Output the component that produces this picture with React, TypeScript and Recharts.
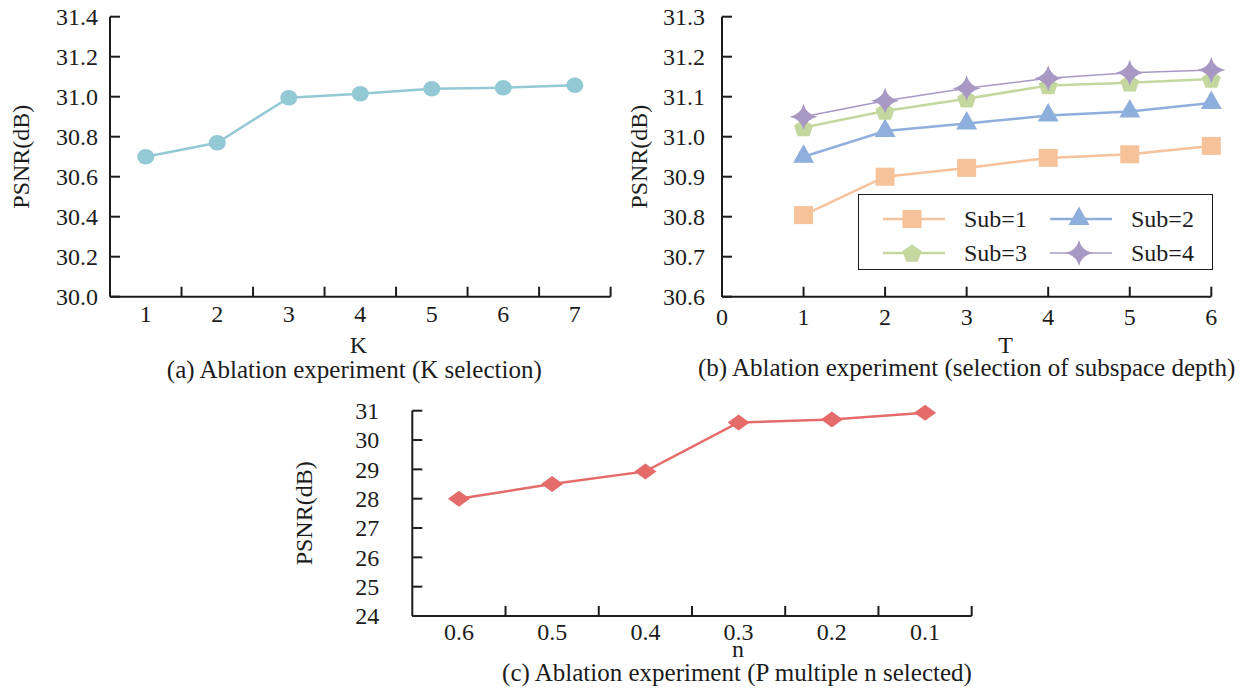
import React from 'react'
import { LineChart, Line, XAxis, YAxis, Legend, Label } from 'recharts'

const FONT = '"Liberation Serif", "Times New Roman", serif'
const INK = '#1c1c1c'

// (a) K selection
const kValues = [1, 2, 3, 4, 5, 6, 7]
const kPsnr = [30.7, 30.77, 30.995, 31.015, 31.04, 31.045, 31.057]
const kYTicks = [30.0, 30.2, 30.4, 30.6, 30.8, 31.0, 31.2, 31.4]

// (b) subspace depth
const tValues = [1, 2, 3, 4, 5, 6]
const tXTicks = [0, 1, 2, 3, 4, 5, 6]
const sub1 = [30.804, 30.9, 30.922, 30.947, 30.956, 30.977]
const sub2 = [30.95, 31.014, 31.033, 31.053, 31.063, 31.084]
const sub3 = [31.023, 31.064, 31.095, 31.128, 31.135, 31.144]
const sub4 = [31.05, 31.09, 31.121, 31.146, 31.16, 31.167]
const tYTicks = [30.6, 30.7, 30.8, 30.9, 31.0, 31.1, 31.2, 31.3]

// (c) P multiple n
const nLabels = ['0.6', '0.5', '0.4', '0.3', '0.2', '0.1']
const nPsnr = [28.0, 28.5, 28.93, 30.6, 30.7, 30.93]
const nYTicks = [24, 25, 26, 27, 28, 29, 30, 31]

const kData = kValues.map((k, i) => ({ k, psnr: kPsnr[i] }))
const tData = tValues.map((t, i) => ({ t, s1: sub1[i], s2: sub2[i], s3: sub3[i], s4: sub4[i] }))
const nData = nLabels.map((n, i) => ({ pos: i + 1, n, psnr: nPsnr[i] }))

const series = [
  { key: 's1', name: 'Sub=1', color: '#F5C29A', shape: 'square', width: 2.5 },
  { key: 's2', name: 'Sub=2', color: '#8EAFDC', shape: 'triangle', width: 2.5 },
  { key: 's3', name: 'Sub=3', color: '#C4D79F', shape: 'pentagon', width: 2.5 },
  { key: 's4', name: 'Sub=4', color: '#A898C4', shape: 'star', width: 1.5 },
]

function Marker({ kind, cx, cy, color }: any) {
  switch (kind) {
    case 'circle':
      return <ellipse cx={cx} cy={cy} rx={8.5} ry={7.8} fill={color} />
    case 'square':
      return <rect x={cx - 9.5} y={cy - 9} width={19} height={18} fill={color} />
    case 'triangle':
      return <path d={`M${cx},${cy - 12.5} L${cx + 10.5},${cy + 6} L${cx - 10.5},${cy + 6} Z`} fill={color} />
    case 'pentagon': {
      const pts = [0, 1, 2, 3, 4].map((j) => {
        const a = -Math.PI / 2 + (j * 2 * Math.PI) / 5
        return `${cx + 10 * Math.cos(a)},${cy + 9.5 * Math.sin(a) + 1}`
      })
      return <polygon points={pts.join(' ')} fill={color} />
    }
    case 'star': {
      const rx = 14
      const ry = 13
      const k = 2.5
      return (
        <path
          d={`M${cx},${cy - ry} Q${cx + k},${cy - k} ${cx + rx},${cy} Q${cx + k},${cy + k} ${cx},${cy + ry} Q${cx - k},${cy + k} ${cx - rx},${cy} Q${cx - k},${cy - k} ${cx},${cy - ry} Z`}
          fill={color}
        />
      )
    }
    case 'diamond':
      return <path d={`M${cx},${cy - 8} L${cx + 11},${cy} L${cx},${cy + 8} L${cx - 11},${cy} Z`} fill={color} />
    default:
      return null
  }
}

function dotOf(kind: string, color: string) {
  return (props: any) => {
    const { cx, cy, index } = props
    if (cx == null || cy == null) return <g key={index} />
    return <Marker key={index} kind={kind} cx={cx} cy={cy} color={color} />
  }
}

function YTick({ x, y, payload, gap, digits }: any) {
  const ax = x + gap
  return (
    <g>
      <line x1={ax} x2={ax + 10} y1={y} y2={y} stroke={INK} strokeWidth={2} />
      <text x={x} y={y} dy="0.34em" textAnchor="end" fontSize={24} fontFamily={FONT} fill={INK}>
        {digits == null ? payload.value : Number(payload.value).toFixed(digits)}
      </text>
    </g>
  )
}

function XTick({ x, y, payload, gap, shift, text }: any) {
  const ay = y - gap
  const lx = x + shift
  return (
    <g>
      <line x1={lx} x2={lx} y1={ay} y2={ay - 10} stroke={INK} strokeWidth={2} />
      <text x={x} y={y} dy="0.35em" textAnchor="middle" fontSize={24} fontFamily={FONT} fill={INK}>
        {text ? text(payload.value) : payload.value}
      </text>
    </g>
  )
}

function SubLegend({ payload }: any) {
  return (
    <div
      style={{
        width: 355,
        height: 76,
        border: `1.5px solid ${INK}`,
        boxSizing: 'border-box',
        position: 'relative',
        background: '#fff',
      }}
    >
      {(payload || []).map((entry: any, i: number) => {
        const s = series.find((d) => d.key === entry.dataKey) || series[i]
        const col = i % 2
        const row = Math.floor(i / 2)
        return (
          <div
            key={entry.value}
            style={{
              position: 'absolute',
              left: col ? 191 : 24,
              top: row ? 43 : 9,
              height: 30,
              display: 'flex',
              alignItems: 'center',
            }}
          >
            <svg width={62} height={30} style={{ overflow: 'visible' }}>
              <line x1={0} x2={62} y1={15} y2={15} stroke={s.color} strokeWidth={s.width} />
              <Marker kind={s.shape} cx={29} cy={15} color={s.color} />
            </svg>
            <span style={{ marginLeft: 19, fontSize: 24, fontFamily: FONT, color: INK, lineHeight: '30px' }}>
              {entry.value}
            </span>
          </div>
        )
      })}
    </div>
  )
}

const axisLine = { stroke: INK, strokeWidth: 2 }
const labelStyle = { fontSize: 24, fontFamily: FONT, fill: INK }
const captionStyle = { fontSize: 25, fontFamily: FONT, fill: INK }

export default function App() {
  return (
    <div style={{ position: 'absolute', left: 0, top: 0, width: 1248, height: 688, background: '#fff', fontFamily: FONT }}>
      {/* (a) */}
      <div style={{ position: 'absolute', left: 0, top: 0 }}>
        <LineChart width={620} height={390} data={kData} margin={{ top: 16.7, right: 9.4, bottom: 0, left: 0 }}>
          <XAxis
            dataKey="k"
            type="number"
            domain={[0.5, 7.5]}
            ticks={kValues}
            interval={0}
            height={93.3}
            axisLine={axisLine}
            tickLine={false}
            tickSize={0}
            tickMargin={17}
            tick={(p: any) => <XTick {...p} gap={17} shift={35.76} />}
          >
            <Label value="K" position="center" dx={-2} dy={1} {...labelStyle} />
            <Label value="(a) Ablation experiment (K selection)" position="center" dx={-6} dy={26} {...captionStyle} />
          </XAxis>
          <YAxis
            type="number"
            domain={[30, 31.4]}
            ticks={kYTicks}
            interval={0}
            width={110}
            axisLine={axisLine}
            tickLine={false}
            tickSize={0}
            tickMargin={12}
            tick={(p: any) => <YTick {...p} gap={12} digits={1} />}
          >
            <Label value="PSNR(dB)" position="center" angle={-90} dx={-35} {...labelStyle} />
          </YAxis>
          <Line
            dataKey="psnr"
            stroke="#93C9D5"
            strokeWidth={2.5}
            dot={dotOf('circle', '#93C9D5')}
            activeDot={false}
            isAnimationActive={false}
          />
        </LineChart>
      </div>

      {/* (b) */}
      <div style={{ position: 'absolute', left: 620, top: 0 }}>
        <LineChart width={628} height={390} data={tData} margin={{ top: 16.7, right: 36.7, bottom: 0, left: 0 }}>
          <XAxis
            dataKey="t"
            type="number"
            domain={[0, 6]}
            ticks={tXTicks}
            interval={0}
            height={93.3}
            axisLine={axisLine}
            tickLine={false}
            tickSize={0}
            tickMargin={20}
            tick={(p: any) => <XTick {...p} gap={20} shift={0} />}
          >
            <Label value="T" position="center" dx={39} dy={1} {...labelStyle} />
            <Label value="(b) Ablation experiment (selection of subspace depth)" position="center" dx={0} dy={24} {...captionStyle} />
          </XAxis>
          <YAxis
            type="number"
            domain={[30.6, 31.3]}
            ticks={tYTicks}
            interval={0}
            width={102}
            axisLine={axisLine}
            tickLine={false}
            tickSize={0}
            tickMargin={17}
            tick={(p: any) => <YTick {...p} gap={17} digits={1} />}
          >
            <Label value="PSNR(dB)" position="center" angle={-90} dx={-33} {...labelStyle} />
          </YAxis>
          <Legend
            layout="horizontal"
            verticalAlign="middle"
            align="center"
            content={<SubLegend />}
            wrapperStyle={{ left: 238, top: 194, width: 355, height: 76 }}
          />
          {series.map((s) => (
            <Line
              key={s.key}
              dataKey={s.key}
              name={s.name}
              stroke={s.color}
              strokeWidth={s.width}
              dot={dotOf(s.shape, s.color)}
              activeDot={false}
              isAnimationActive={false}
            />
          ))}
        </LineChart>
      </div>

      {/* (c) */}
      <div style={{ position: 'absolute', left: 280, top: 390 }}>
        <LineChart width={720} height={298} data={nData} margin={{ top: 20.7, right: 28.3, bottom: 0, left: 0 }}>
          <XAxis
            dataKey="pos"
            type="number"
            domain={[0.5, 6.5]}
            ticks={nData.map((d) => d.pos)}
            interval={0}
            height={72}
            axisLine={axisLine}
            tickLine={false}
            tickSize={0}
            tickMargin={16}
            tick={(p: any) => <XTick {...p} gap={16} shift={46.6} text={(v: number) => nLabels[v - 1]} />}
          >
            <Label value="n" position="center" dx={46} dy={-4} {...labelStyle} />
            <Label value="(c) Ablation experiment (P multiple n selected)" position="center" dx={45} dy={20} {...captionStyle} />
          </XAxis>
          <YAxis
            type="number"
            domain={[24, 31]}
            ticks={nYTicks}
            interval={0}
            width={132.3}
            axisLine={axisLine}
            tickLine={false}
            tickSize={0}
            tickMargin={33}
            tick={(p: any) => <YTick {...p} gap={33} />}
          >
            <Label value="PSNR(dB)" position="center" angle={-90} dx={-43} {...labelStyle} />
          </YAxis>
          <Line
            dataKey="psnr"
            stroke="#E56B6B"
            strokeWidth={2.5}
            dot={dotOf('diamond', '#E56B6B')}
            activeDot={false}
            isAnimationActive={false}
          />
        </LineChart>
      </div>
    </div>
  )
}
